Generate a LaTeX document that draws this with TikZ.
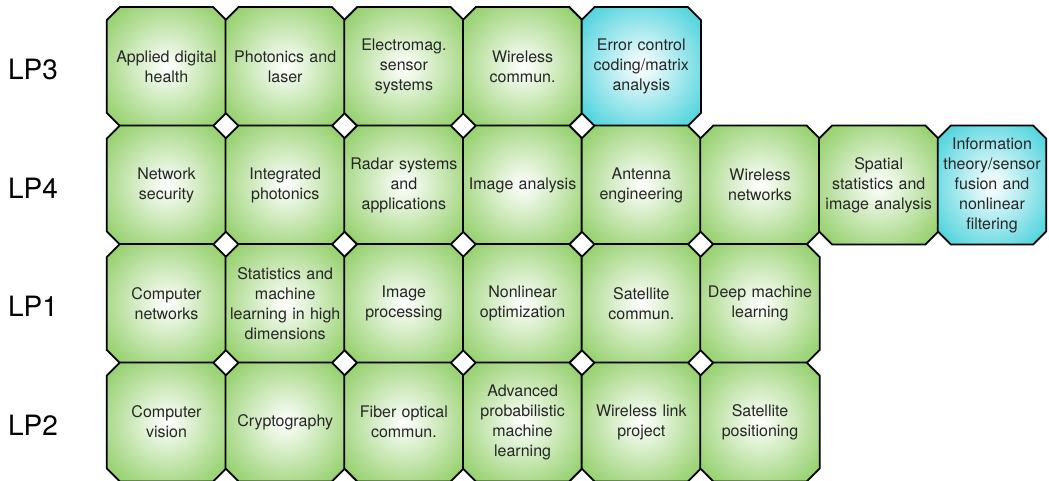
\documentclass[tikz,border=0pt]{standalone}
\usepackage{fontspec}
\setmainfont{TeX Gyre Heros}
\definecolor{tilegreen}{RGB}{122,196,72}
\definecolor{tilecyan}{RGB}{34,200,212}
\pgfdeclareradialshading{greenglow}{\pgfpoint{0bp}{0bp}}{color(0bp)=(white); color(40bp)=(tilegreen); color(50bp)=(tilegreen)}
\pgfdeclareradialshading{cyanglow}{\pgfpoint{0bp}{0bp}}{color(0bp)=(white); color(40bp)=(tilecyan); color(50bp)=(tilecyan)}
\pgfdeclarelayer{background}
\pgfsetlayers{background,main}
\tikzset{
    tile/.style={rectangle, inner sep=0pt, minimum width=119pt, minimum height=118.5pt,
        text width=112pt, align=center, text=black!85, font=\fontsize{16}{20}\selectfont,
        append after command={\pgfextra{\begin{pgfonlayer}{background}
            \path[draw=black, line width=1.8pt, shading=#1]
                ([xshift=13pt]\tikzlastnode.north west) -- ([xshift=-13pt]\tikzlastnode.north east)
                -- ([yshift=-13pt]\tikzlastnode.north east) -- ([yshift=13pt]\tikzlastnode.south east)
                -- ([xshift=-13pt]\tikzlastnode.south east) -- ([xshift=13pt]\tikzlastnode.south west)
                -- ([yshift=13pt]\tikzlastnode.south west) -- ([yshift=-13pt]\tikzlastnode.north west)
                -- cycle;
            \end{pgfonlayer}}}},
    course/.style={tile=greenglow},
    special/.style={tile=cyanglow},
    period/.style={font=\fontsize{28}{30}\selectfont, text=black}
}
\begin{document}
\begin{tikzpicture}[x=1pt,y=1pt]
    \useasboundingbox (0,0) rectangle (1049,-481);
    % study periods
    \node[period] (lp3) at (33,-70) {LP3};
    \node[period] (lp4) at (33,-188) {LP4};
    \node[period] (lp1) at (33,-306) {LP1};
    \node[period] (lp2) at (33,-425) {LP2};
    % LP3
    \node[course] (a1) at (166.5,-66.5) {Applied digital\\health};
    \node[course] (a2) at (285.2,-66.5) {Photonics and\\laser};
    \node[course] (a3) at (403.9,-66.5) {Electromag.\\sensor\\systems};
    \node[course] (a4) at (522.6,-66.5) {Wireless\\commun.};
    \node[special] (a5) at (641.3,-66.5) {Error control\\coding/matrix\\analysis};
    % LP4
    \node[course] (b1) at (166.5,-185) {Network\\security};
    \node[course] (b2) at (285.2,-185) {Integrated\\photonics};
    \node[course] (b3) at (403.9,-185) {Radar systems\\and\\applications};
    \node[course] (b4) at (522.6,-185) {Image analysis};
    \node[course] (b5) at (641.3,-185) {Antenna\\engineering};
    \node[course] (b6) at (760,-185) {Wireless\\networks};
    \node[course] (b7) at (878.7,-185) {Spatial\\statistics and\\image analysis};
    \node[special, minimum width=108pt, text width=104pt] (b8) at (992,-185) {Information\\theory/sensor\\fusion and\\nonlinear\\filtering};
    % LP1
    \node[course] (c1) at (166.5,-303.5) {Computer\\networks};
    \node[course] (c2) at (285.2,-303.5) {Statistics and\\machine\\learning in high\\dimensions};
    \node[course] (c3) at (403.9,-303.5) {Image\\processing};
    \node[course] (c4) at (522.6,-303.5) {Nonlinear\\optimization};
    \node[course] (c5) at (641.3,-303.5) {Satellite\\commun.};
    \node[course] (c6) at (760,-303.5) {Deep machine\\learning};
    % LP2
    \node[course] (d1) at (166.5,-422) {Computer\\vision};
    \node[course] (d2) at (285.2,-422) {Cryptography};
    \node[course] (d3) at (403.9,-422) {Fiber optical\\commun.};
    \node[course] (d4) at (522.6,-422) {Advanced\\probabilistic\\machine\\learning};
    \node[course] (d5) at (641.3,-422) {Wireless link\\project};
    \node[course] (d6) at (760,-422) {Satellite\\positioning};
\end{tikzpicture}
\end{document}
